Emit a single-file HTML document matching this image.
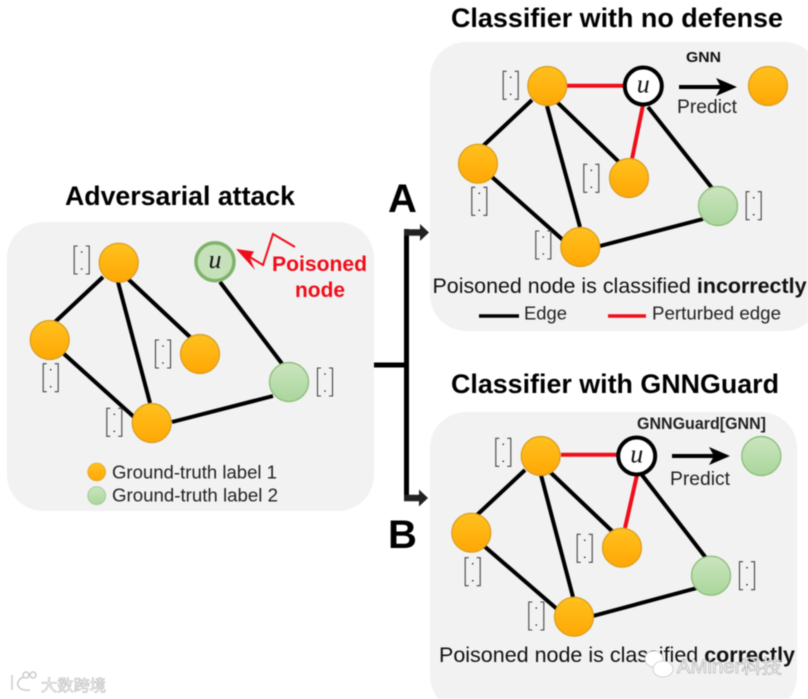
<!DOCTYPE html>
<html><head><meta charset="utf-8"><title>GNNGuard diagram</title>
<style>
html,body{margin:0;padding:0;background:#fff;width:808px;height:699px;overflow:hidden}
svg{display:block;filter:blur(.45px)}
text{font-family:"Liberation Sans","Noto Sans CJK SC",sans-serif}
.t{font-weight:bold;font-size:26.7px;fill:#000}
.c{font-size:21.4px;fill:#111}
.s{font-size:18.6px;fill:#222}
.u{font-family:"Liberation Serif",serif;font-style:italic;font-size:26px;fill:#111;text-anchor:middle}
.k{stroke:#000;stroke-width:4;fill:none}
.r{stroke:#f00d1a;stroke-width:4;fill:none}
</style></head><body>
<svg xmlns="http://www.w3.org/2000/svg" width="808" height="699" viewBox="0 0 808 699">
<defs>
<linearGradient id="o" x1="0" y1="0" x2="0" y2="1"><stop offset="0" stop-color="#ffc11e"/><stop offset="1" stop-color="#ffa705"/></linearGradient>
<linearGradient id="g" x1="0" y1="0" x2="0" y2="1"><stop offset="0" stop-color="#cbe5c0"/><stop offset="1" stop-color="#aad69b"/></linearGradient>
<g id="O"><circle r="19.5" fill="url(#o)" stroke="#d89c20" stroke-width="1.2"/></g>
<g id="G"><circle r="19.5" fill="url(#g)" stroke="#8fc07c" stroke-width="1.4"/></g>
<g id="B" fill="none" stroke="#444" stroke-width="1.100"><path d="M-4,-14H-7.500V14H-4M4,-14H7.500V14H4"/><circle cx="0" cy="-8" r=".8" fill="#222" stroke="none"/><circle cx="0" cy="9" r=".8" fill="#222" stroke="none"/></g>
<g id="U"><circle r="18.5" fill="#fff" stroke="#000" stroke-width="4"/><text class="u" y="6.500">u</text></g>
</defs>

<!-- panels -->
<rect x="7" y="222" width="367" height="289" rx="36" fill="#f2f2f2"/>
<rect x="430" y="42" width="390" height="289" rx="36" fill="#f2f2f2"/>
<rect x="430" y="412" width="367" height="300" rx="36" fill="#f2f2f2"/>

<!-- titles -->
<text class="t" x="65" y="205" textLength="230" lengthAdjust="spacingAndGlyphs">Adversarial attack</text>
<text class="t" x="451" y="27" textLength="332" lengthAdjust="spacingAndGlyphs">Classifier with no defense</text>
<text class="t" x="451" y="393" textLength="328" lengthAdjust="spacingAndGlyphs">Classifier with GNNGuard</text>
<text x="388" y="212" font-size="40" font-weight="bold" fill="#000">A</text>
<text x="388" y="548" font-size="40" font-weight="bold" fill="#000">B</text>

<!-- connector -->
<path d="M374,365H406.500M406.500,229V500" stroke="#000" stroke-width="5" fill="none"/>
<path d="M404,232.500H421" stroke="#222" stroke-width="6.500"/><path d="M420,224L429,232.500L420,241Z" fill="#222"/>
<path d="M404,498H420" stroke="#222" stroke-width="6.500"/><path d="M419,489.500L428,498L419,506.500Z" fill="#222"/>

<!-- left graph -->
<path class="k" d="M103,277L55,322M118,282L150,403M127,278L190,337M63,353L134,417M172,422L273,396M220,282L283,365"/>
<use href="#O" x="118.700" y="262.700"/><use href="#O" x="49.700" y="340"/><use href="#O" x="200" y="354"/><use href="#O" x="151.700" y="423"/><use href="#G" x="289" y="382"/>
<circle cx="215" cy="261.700" r="19" fill="#c5e1ba" stroke="#7fb368" stroke-width="3.500"/><text class="u" x="215" y="268">u</text>
<use href="#B" x="81.700" y="260"/><use href="#B" x="50.700" y="377.700"/><use href="#B" x="163" y="354"/><use href="#B" x="114.300" y="422.300"/><use href="#B" x="325" y="382"/>
<path d="M238,250L263,265L273,234L295,247" fill="none" stroke="#f00d1a" stroke-width="2"/>
<path d="M236,249L254,251.500L250,258L255,270Z" fill="#f00d1a"/>
<text x="272" y="271" font-size="21.100" font-weight="bold" fill="#f00d1a" textLength="95" lengthAdjust="spacingAndGlyphs">Poisoned</text>
<text x="295" y="297" font-size="21.100" font-weight="bold" fill="#f00d1a" textLength="50" lengthAdjust="spacingAndGlyphs">node</text>
<use href="#O" transform="translate(96.700 472) scale(.46)"/>
<use href="#G" transform="translate(96.700 495.700) scale(.46)"/>
<text class="s" x="112" y="478.300" textLength="165" lengthAdjust="spacingAndGlyphs">Ground-truth label 1</text>
<text class="s" x="112" y="501.700" textLength="166" lengthAdjust="spacingAndGlyphs">Ground-truth label 2</text>

<!-- top right graph -->
<path class="k" d="M532,100L483,146M547,106L580,227M557,102L619,162M492,177L563,240M600,246L703,219M648,107L712,188"/>
<path class="r" d="M567,85.700H624M643,105L632,159"/>
<use href="#O" x="547.300" y="86"/><use href="#O" x="478" y="163.700"/><use href="#O" x="629" y="178"/><use href="#O" x="580.300" y="247"/><use href="#G" x="718" y="206"/><use href="#O" x="768" y="86"/>
<use href="#U" x="643.300" y="86"/>
<use href="#B" x="510.700" y="85.300"/><use href="#B" x="479.300" y="201.300"/><use href="#B" x="591.300" y="178.300"/><use href="#B" x="543.300" y="245"/><use href="#B" x="753.700" y="205.700"/>
<path d="M679,87H722" stroke="#000" stroke-width="4"/><path d="M716,78L737,87L716,96L721,87Z" fill="#000"/>
<text x="686" y="62" font-size="15" font-weight="bold" fill="#111" textLength="35" lengthAdjust="spacingAndGlyphs">GNN</text>
<text class="s" x="677" y="113" style="font-size:19.300px" textLength="60" lengthAdjust="spacingAndGlyphs">Predict</text>
<text class="c" x="432.500" y="293" textLength="374" lengthAdjust="spacingAndGlyphs">Poisoned node is classified <tspan font-weight="bold">incorrectly</tspan></text>
<path d="M479,316H519" stroke="#000" stroke-width="3.500"/>
<path d="M608,316H646" stroke="#f00d1a" stroke-width="3.500"/>
<text class="s" x="524" y="319.500" textLength="43" lengthAdjust="spacingAndGlyphs">Edge</text>
<text class="s" x="652" y="319.500" textLength="129" lengthAdjust="spacingAndGlyphs">Perturbed edge</text>

<!-- bottom right graph -->
<path class="k" d="M525,470L477,515M541,475L573,597M550,472L613,532M484,546L557,609M593,616L697,588M642,475L706,558"/>
<path class="r" d="M561,454.700H618M637,475L625,528" />
<use href="#O" x="540.700" y="456"/><use href="#O" x="471.300" y="532.700"/><use href="#O" x="622" y="547.700"/><use href="#O" x="574" y="616.700"/><use href="#G" x="711" y="575.700"/><use href="#G" x="761.300" y="456"/>
<use href="#U" x="636.700" y="456"/>
<use href="#B" x="503.300" y="452.300"/><use href="#B" x="472.700" y="571.700"/><use href="#B" x="584.700" y="548.300"/><use href="#B" x="536.300" y="616"/><use href="#B" x="747" y="575.700"/>
<path d="M672,456H715" stroke="#000" stroke-width="4"/><path d="M709,447L730,456L709,465L714,456Z" fill="#000"/>
<text x="637" y="429" font-size="16.500" font-weight="bold" fill="#222" textLength="129" lengthAdjust="spacingAndGlyphs">GNNGuard[GNN]</text>
<text class="s" x="670" y="485" style="font-size:19.300px" textLength="60" lengthAdjust="spacingAndGlyphs">Predict</text>
<text class="c" x="439" y="662" textLength="356" lengthAdjust="spacingAndGlyphs">Poisoned node is classified <tspan font-weight="bold">correctly</tspan></text>

<!-- watermarks -->
<g fill="#fff" stroke="#bbb" stroke-width=".6">
<ellipse cx="654" cy="659" rx="9" ry="8"/><ellipse cx="663" cy="669" rx="10" ry="8"/>
</g>
<text x="677" y="673" font-size="19" fill="#fff" stroke="#999" stroke-width=".5" textLength="105" lengthAdjust="spacingAndGlyphs">AMiner科技</text>
<g fill="none" stroke="#ccc" stroke-width="1.500"><path d="M12,675V690M24,677C14,680 16,692 30,690"/><circle cx="26" cy="675" r="3"/><circle cx="33" cy="675" r="3"/></g>
<text x="41" y="691" font-size="16" fill="#fff" stroke="#bbb" stroke-width=".6" textLength="65" lengthAdjust="spacingAndGlyphs">大数跨境</text>
</svg>
</body></html>
